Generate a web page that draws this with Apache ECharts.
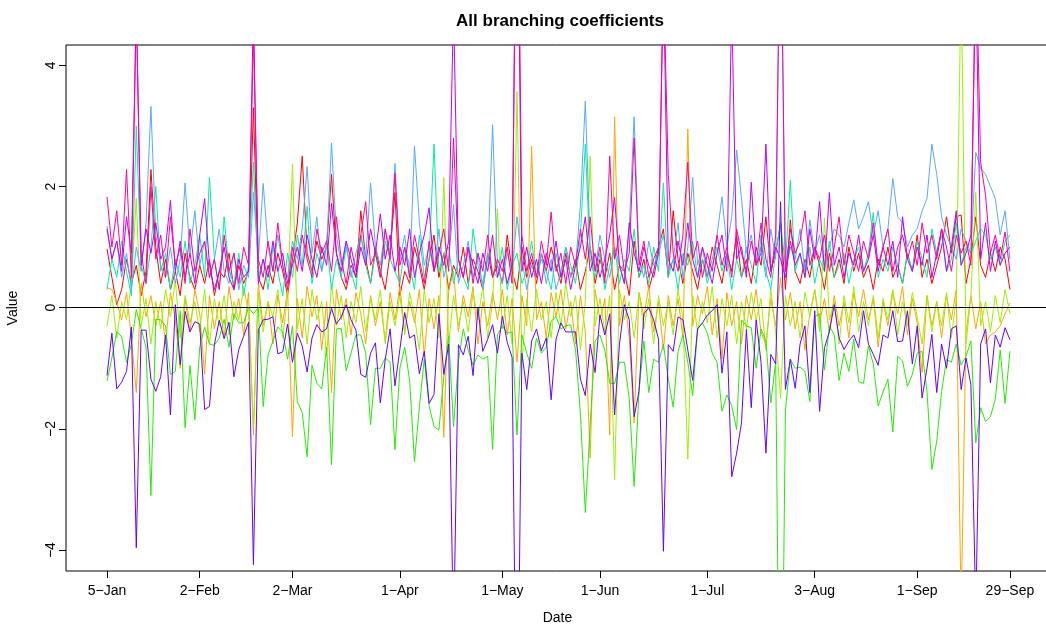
<!DOCTYPE html>
<html><head><meta charset="utf-8">
<script src="https://cdn.jsdelivr.net/npm/echarts@6/dist/echarts.min.js"></script>
<style>html,body{margin:0;padding:0;background:#fff}#c{width:1046px;height:628px}</style>
</head><body><div id="c"></div>
<script>
// trading-day index of each date tick and its label
const tickIndex = [0, 19, 38, 60, 81, 101, 123, 145, 166, 185];
const tickLabels = ['5\u2212Jan', '2\u2212Feb', '2\u2212Mar', '1\u2212Apr', '1\u2212May', '1\u2212Jun', '1\u2212Jul', '3\u2212Aug', '1\u2212Sep', '29\u2212Sep'];
const yTicks = [-4, -2, 0, 2, 4];
const seriesNames = ['b1', 'b2', 'b3', 'b4', 'b5', 'b6', 'b7', 'b8', 'b9'];
const seriesColors = ['#FF0000', '#FFA500', '#9EF000', '#22EE00', '#00F0A0', '#55AAFF', '#6600FF', '#BB00FF', '#FF0099'];

const red = [0.97,0.5,0.05,0.3,0.8,0.4,0.7,0.2,0.6,2.28,
1.0,0.4,0.8,0.3,0.6,0.2,0.9,0.5,0.3,0.7,
0.4,0.8,0.2,0.6,0.5,0.9,0.3,0.7,0.4,0.6,
3.3,0.5,0.3,0.7,0.4,0.9,0.6,0.2,0.8,1.4,
2.5,0.9,0.6,1.1,0.8,1.0,2.2,0.9,0.5,0.3,
0.7,0.5,1.6,0.8,0.4,1.0,0.6,0.3,0.9,1.9,
0.2,0.6,0.4,1.0,0.7,0.3,0.8,1.2,0.5,0.9,
0.3,0.7,0.5,1.0,0.4,0.8,0.6,0.3,0.9,0.5,
0.7,0.4,1.2,0.6,0.3,1.0,0.5,0.8,0.4,0.9,
0.6,1.0,0.7,0.4,0.9,0.5,0.8,0.3,0.6,1.0,
0.4,0.8,0.5,0.9,0.3,0.7,0.6,0.2,1.1,0.5,
0.8,0.3,0.6,1.0,1.3,0.5,1.6,0.8,0.4,0.9,
0.6,0.3,0.8,0.5,1.0,0.7,0.4,0.9,0.6,1.2,
0.5,0.8,0.4,1.0,0.7,1.5,0.6,0.9,1.4,0.3,
1.45,0.6,0.4,0.8,0.5,1.0,0.7,0.3,0.9,0.5,
0.8,0.4,1.0,0.6,0.9,0.5,0.7,0.3,0.8,0.6,
1.0,0.5,0.7,0.4,0.9,0.6,1.2,0.5,0.8,0.4,
0.7,1.0,1.5,0.9,1.5,1.53,0.4,0.8,1.5,0.7,
0.5,0.9,0.6,1.0,0.8,0.3];

const orange = [0.33,0.3,0.1,-0.2,0.25,-0.5,-1.4,0.4,-0.15,0.2,
-0.3,0.1,-0.6,0.25,-0.2,-1.0,0.15,-0.4,0.3,-0.1,
-1.1,0.2,-0.35,0.1,-0.5,0.35,-0.2,0.15,-0.45,0.25,
-2.1,0.4,-0.3,0.1,-0.6,0.2,-0.25,0.3,-2.13,0.15,
-0.5,0.35,-0.15,0.2,-0.7,0.1,-1.4,0.3,-0.2,0.15,
-0.45,0.25,-0.1,-0.6,0.2,-0.3,0.1,-0.55,0.25,-0.2,
0.35,-0.4,0.1,-0.25,0.3,-0.8,0.15,-0.35,0.2,-2.14,
0.3,0.6,-0.4,0.2,-0.15,0.35,-0.6,0.1,-0.3,0.25,
-0.2,0.3,-0.45,0.15,-0.9,0.2,-0.3,2.66,-0.2,0.1,
-0.5,0.25,-0.15,0.3,-0.35,0.1,-0.6,0.2,-0.4,-2.48,
0.3,-0.2,0.15,-2.1,3.15,-0.3,0.2,-0.5,-1.9,0.25,
-0.15,0.35,-0.4,0.1,-0.7,0.2,-0.3,0.15,-0.5,2.95,
-0.3,0.2,-0.1,0.35,-0.45,0.15,-0.85,0.25,-0.3,0.1,
-0.6,0.2,-0.2,0.3,-0.4,-0.62,0.15,-0.3,0.5,-0.2,
0.25,-0.35,0.1,-0.7,-0.1,0.3,-0.25,0.15,-0.4,0.2,
-0.3,0.1,-0.5,0.25,-0.15,0.3,-0.2,0.15,-0.65,0.1,
-0.3,0.25,-0.1,0.35,-0.45,0.15,-0.25,-1.07,0.2,-0.3,
0.1,-0.5,0.2,-0.2,0.3,-5,-0.4,0.2,-0.35,0.1,
-0.6,-0.45,-0.4,-0.3,-0.1,0.08];

const yellowGreen = [-0.3,0.2,-0.5,0.1,-0.2,0.4,1.8,-0.3,0.15,-0.6,
0.1,-0.35,0.3,-0.15,0.45,-0.5,0.2,-0.25,0.1,-0.4,
0.3,-0.6,0.15,-0.3,0.2,-0.45,0.1,-0.2,0.35,-0.1,
-2.0,0.25,-0.4,0.1,-0.15,0.3,-0.5,0.2,2.37,-0.35,
0.15,-0.6,0.3,-0.2,0.1,-0.8,0.4,-0.3,0.2,-0.5,
0.1,-0.25,0.35,-0.4,0.15,-0.2,0.3,-0.6,0.1,-0.3,
0.2,-0.45,0.25,-0.15,-0.7,0.3,-0.25,0.15,-0.5,2.15,
-0.6,0.2,-0.3,0.1,-0.4,0.25,-0.2,0.35,-0.5,0.1,
1.63,-0.35,0.2,-0.6,3.57,-0.9,0.15,-0.4,0.3,-0.2,
0.1,-0.5,0.25,-0.3,0.4,-0.15,0.2,-0.7,0.1,2.5,
-0.3,0.15,-0.4,0.2,-2.84,0.3,-0.2,0.1,-0.5,0.25,
-0.35,0.15,-0.6,0.2,-0.3,0.1,-0.45,0.3,-0.2,-2.5,
0.2,-0.4,0.1,-0.25,0.35,-0.5,0.15,-0.3,0.2,-0.6,
0.1,-0.35,0.25,-0.2,0.15,-0.7,0.3,-0.4,-1.5,0.2,
-0.3,0.1,-0.5,0.25,-0.15,0.3,-0.4,1.48,-0.2,0.1,
-0.6,0.2,-0.25,0.35,-0.4,0.1,-0.3,0.2,-0.5,0.15,
-0.2,0.3,-0.45,0.1,-0.3,0.25,-0.15,-0.6,0.2,-0.4,
0.1,-0.3,0.25,-0.5,0.15,5.5,-0.6,0.2,1.9,-0.3,
0.1,-0.4,0.2,-0.25,0.3,-0.1];

const green = [-1.21,-0.83,-0.39,-0.48,-0.9,-0.6,-0.03,-0.35,-0.65,-3.1,
-0.19,-0.2,-0.3,-1.1,-1.05,-0.05,-1.98,-0.95,-1.85,-0.65,
-0.32,-0.6,-0.62,-0.5,-0.19,-0.65,-0.1,-0.25,-0.25,0.0,
-0.1,0.0,-1.63,-0.78,-0.55,-0.32,-0.4,-0.85,-0.3,-1.55,
-1.73,-2.46,-0.95,-1.25,-1.34,-0.65,-2.59,-0.35,-0.34,-1.04,
-0.75,-0.45,-0.45,-0.75,-1.93,-1.0,-1.0,-0.83,-0.9,-2.34,
-1.0,-0.65,-1.2,-2.54,-1.64,-0.85,-1.62,-1.96,-2.02,-1.15,
-0.47,-1.96,-0.88,-0.35,-0.7,-0.95,-0.78,-0.85,-0.8,-2.34,
-0.45,-0.3,-0.42,-0.4,-2.1,-0.45,-0.75,-1.0,-0.5,-0.75,
-0.65,-0.22,-0.15,-0.35,-0.3,-0.28,-0.7,-1.75,-3.38,-1.93,
-0.55,-0.45,-0.7,-1.25,-1.25,-0.9,-0.9,-1.5,-2.95,-1.38,
-0.55,-1.4,-0.85,-0.9,-0.6,-1.18,-1.64,-0.72,-0.45,-0.9,
-1.45,-0.35,-0.25,-0.42,-0.75,-0.9,-1.71,-1.44,-1.62,-2.01,
-0.2,-0.3,-0.33,-1.0,-0.35,-0.55,-1.57,-0.9,-9,-1.7,
-0.85,-1.0,-0.98,-1.05,-1.55,-0.15,-0.1,-1.03,-0.3,-0.45,
-1.2,-0.75,-1.05,-0.52,-1.22,-1.25,-0.63,-0.93,-1.62,-1.39,
-1.18,-2.05,-0.8,-0.88,-1.3,-1.1,-0.75,-0.72,-1.38,-2.67,
-2.2,-1.38,-0.85,-0.9,-0.6,-0.95,-0.8,-0.55,-2.23,-1.65,
-1.88,-1.8,-1.51,-0.7,-1.58,-0.72];

const aqua = [0.3,0.8,0.5,1.1,0.6,0.2,3.0,0.7,0.4,1.0,
2.0,0.6,0.9,0.3,0.8,0.5,1.1,0.4,0.7,1.2,
0.5,2.15,0.8,0.3,1.5,0.6,0.4,0.9,0.2,0.7,
2.4,0.5,0.8,0.3,1.0,0.6,0.2,0.9,0.5,1.2,
0.7,1.67,0.4,0.9,0.6,1.1,0.3,0.8,0.5,1.0,
0.6,0.3,1.2,0.7,0.4,0.9,0.5,1.1,0.8,0.6,
0.4,1.0,0.7,0.3,1.2,0.5,0.8,2.7,0.6,0.9,
1.0,0.4,0.8,0.5,0.3,1.3,0.7,0.4,0.9,0.6,
0.5,1.0,0.3,0.7,0.9,0.4,0.6,1.1,0.5,0.8,
0.6,0.3,0.9,0.5,1.0,0.7,0.4,1.2,2.7,0.8,
0.5,0.9,0.3,0.7,1.0,0.4,0.8,0.6,1.3,0.5,
0.7,0.4,1.0,0.6,2.06,0.5,0.8,0.3,0.9,0.7,
1.1,0.5,0.8,0.4,0.7,1.0,0.6,0.9,0.3,0.8,
0.5,1.0,0.7,0.4,1.2,0.6,0.3,0.9,1.4,0.7,
2.1,0.6,0.9,0.5,1.0,0.4,0.8,0.6,1.1,0.5,
0.7,0.9,0.4,0.8,1.0,0.6,0.9,1.57,0.5,0.8,
0.6,1.0,0.7,0.4,0.9,0.6,1.1,0.8,0.5,1.3,
0.9,1.2,0.6,0.8,1.4,0.7,1.0,0.9,1.1,1.3,
1.2,0.8,1.0,0.7,1.1,1.2];

const lightBlue = [1.35,0.8,1.1,0.5,0.9,0.3,1.0,0.6,1.4,3.32,
1.2,0.7,0.5,1.0,0.4,0.8,2.06,0.9,1.6,0.7,
1.1,0.5,0.8,1.3,0.6,0.4,0.9,0.3,0.7,0.5,
1.9,0.8,2.05,1.0,0.6,1.2,0.7,0.5,1.1,0.8,
1.3,2.33,0.9,1.5,0.6,1.0,2.72,1.2,0.7,1.1,
0.5,0.9,1.2,0.8,2.06,1.0,0.7,1.3,0.9,2.38,
0.8,1.2,0.5,2.67,1.4,0.7,1.0,0.6,1.3,0.5,
0.8,1.7,0.4,0.7,1.1,0.5,0.9,0.3,0.8,3.02,
0.7,0.4,0.9,0.6,1.5,0.8,0.3,0.7,0.5,0.9,
0.4,0.8,0.3,0.6,1.0,0.5,0.7,1.7,3.41,1.0,
0.6,1.2,0.8,0.5,1.0,0.7,0.4,1.3,3.15,0.8,
0.5,1.1,0.7,0.9,1.2,0.6,0.8,1.4,0.5,1.0,
2.15,0.7,1.0,0.5,0.8,1.2,1.83,1.0,1.5,2.6,
1.8,0.9,1.2,0.7,1.0,0.5,1.3,0.8,7,0.6,
1.0,0.8,1.3,0.6,1.45,0.9,1.2,0.7,1.0,1.3,
1.2,1.0,1.4,1.78,1.3,1.5,1.75,1.2,1.6,1.0,
1.3,2.13,1.5,1.4,1.0,1.2,1.3,1.6,1.8,2.7,
2.2,1.5,1.2,1.0,0.8,1.3,1.1,0.9,2.56,2.3,
2.2,2.0,1.8,1.2,1.6,0.8];

const indigo = [-1.12,-0.42,-1.34,-1.23,-1.05,-0.32,-3.96,-0.37,-0.37,-1.18,
-1.38,-1.14,-0.45,-1.77,0.05,-0.94,-0.06,-0.4,-0.23,-0.27,
-1.68,-1.63,-0.61,-0.21,-0.51,-0.24,-1.14,-0.69,-0.47,-0.24,
-4.24,-0.37,-0.2,-0.19,-0.15,-0.76,-0.73,-0.27,-0.9,-0.42,
-0.63,-1.06,-0.5,-0.28,-0.4,-0.35,-0.01,-0.27,-0.15,0.05,
-0.2,-0.37,-1.1,-1.15,-0.75,-0.58,-1.57,-0.86,-0.35,-1.29,
-0.69,-0.08,-0.5,-0.45,-1.09,-0.72,-1.58,-1.43,-0.1,-1.1,
-0.6,-5.5,-0.61,-0.78,-0.47,-1.12,0.0,-0.72,-0.52,-0.28,
-0.75,-0.14,-0.57,-0.82,-8,-0.75,-1.35,-0.55,-0.35,-0.71,
-0.5,-1.52,-0.52,-0.25,-0.4,-0.4,-0.4,-1.18,-1.45,-0.6,
-1.07,-0.12,-0.45,-0.1,-1.77,-0.6,0.05,-0.2,-1.8,-1.38,
-0.1,0.0,-0.2,-0.52,-4.02,-0.61,-0.72,-0.15,-0.2,-0.7,
-1.2,-0.35,-0.25,-0.12,-0.05,0.05,-1.08,-0.4,-2.79,-2.4,
-1.9,-0.36,-1.65,-0.2,-0.9,-2.4,-0.77,-0.93,1.75,-1.35,
-0.85,-1.33,-0.6,-0.3,-1.4,-0.05,-1.71,-0.66,-0.4,0.05,
-0.5,-0.69,-0.55,-0.45,-0.66,-0.05,-0.6,-0.77,-0.95,-0.45,
-0.5,-0.05,-0.56,-0.55,-0.05,-0.93,-0.3,-1.49,-1.0,-0.44,
-1.4,-0.6,-1.0,-0.35,-0.3,-1.35,-0.83,-1.27,-5,-0.6,
-0.35,-1.24,-0.45,-0.65,-0.33,-0.53];

const purple = [1.3,0.8,1.1,0.6,1.5,0.9,5,0.7,1.3,0.9,
1.4,0.8,1.0,1.77,0.6,1.1,0.5,0.9,0.4,1.2,
1.8,0.7,0.3,0.6,1.0,0.5,0.3,0.8,0.5,0.6,
5,0.4,0.8,0.5,1.1,0.6,0.9,0.4,0.7,1.0,
0.6,1.2,0.8,0.5,1.0,0.7,1.72,0.9,0.6,1.1,
0.8,0.5,1.0,0.7,1.3,0.9,1.55,0.8,1.2,0.6,
1.0,0.7,1.3,0.5,0.9,1.2,1.65,0.6,1.0,0.7,
1.1,5,0.8,0.5,1.0,0.7,0.4,0.9,0.6,1.2,
0.5,0.8,0.4,0.7,8,0.6,1.0,0.5,0.8,0.4,
0.9,0.6,1.1,0.5,0.8,0.3,0.7,1.0,1.5,0.6,
0.9,0.5,0.8,1.2,1.82,0.7,0.4,1.4,0.9,0.6,
1.0,0.7,0.5,0.9,5.5,0.8,0.6,1.1,0.7,1.4,
0.8,0.5,1.0,0.7,0.4,0.9,1.2,0.6,5,0.8,
1.0,0.5,2.07,0.7,0.9,2.7,0.6,1.0,0.8,0.5,
1.1,0.7,0.9,0.5,1.3,0.8,1.75,0.6,1.9,0.7,
1.0,0.5,0.9,0.7,1.2,0.6,0.8,1.2,0.6,1.0,
0.7,1.1,0.5,1.5,0.8,0.6,1.0,0.7,1.2,0.5,
0.9,1.3,0.6,1.0,1.6,0.7,0.9,1.2,5.5,0.8,
1.4,0.6,1.1,0.7,0.9,1.0];

const pink = [1.83,1.0,1.6,0.7,2.28,0.5,5,0.9,0.4,2.0,
0.8,1.2,0.5,1.5,0.7,1.0,0.4,1.3,0.6,0.9,
1.1,0.5,0.8,0.3,1.2,0.6,0.9,0.4,1.0,0.7,
4.5,0.8,0.5,1.1,0.6,1.4,0.7,0.3,1.0,0.6,
1.2,0.8,0.5,1.3,0.9,1.1,0.6,1.5,0.8,0.4,
1.0,0.6,1.2,1.75,0.7,0.9,0.5,1.3,0.8,2.22,
0.7,1.0,0.5,1.2,0.8,0.4,1.1,0.6,0.9,1.3,
0.6,2.8,0.8,0.5,1.0,0.4,0.9,0.6,1.2,0.5,
0.8,0.6,1.0,0.4,9,1.2,0.6,0.9,0.5,1.1,
0.7,1.58,0.6,0.9,0.4,1.0,0.7,1.3,0.8,1.5,
0.6,1.0,0.4,2.5,0.8,1.2,0.6,0.9,2.8,0.7,
1.1,0.5,0.8,1.0,5.5,2.2,0.9,0.6,1.2,2.4,
0.8,1.1,0.5,0.9,0.6,1.2,0.7,1.0,0.5,1.3,
0.9,0.6,1.1,0.7,1.4,0.8,0.5,1.2,7,0.6,
1.3,0.9,1.1,1.6,0.7,1.0,0.8,1.2,0.6,1.0,
1.5,0.7,1.2,0.9,0.6,1.1,0.8,1.4,0.7,1.0,
1.3,0.6,1.0,1.2,0.8,1.1,0.7,1.4,0.9,1.2,
0.8,1.3,1.0,0.6,1.2,0.9,1.1,0.7,6,2.4,
1.85,0.9,1.2,0.8,1.25,0.6];

const allSeries = [red, orange, yellowGreen, green, aqua, lightBlue, indigo, purple, pink];
const FONT = "'Liberation Sans', Arial, Helvetica, sans-serif";

const chart = echarts.init(document.getElementById('c'), null, {renderer: 'canvas'});
const series = allSeries.map((arr, k) => ({
  type: 'line',
  name: seriesNames[k],
  data: arr.map((v, i) => [i, v]),
  symbol: 'none',
  showSymbol: false,
  clip: true,
  silent: true,
  lineStyle: {width: 1, color: seriesColors[k]},
  itemStyle: {color: seriesColors[k]},
  z: 2 + k
}));
series[0].markLine = {
  silent: true, symbol: ['none', 'none'], label: {show: false},
  lineStyle: {color: '#000', width: 1, type: 'solid'},
  data: [{yAxis: 0}]
};

chart.setOption({
  animation: false,
  backgroundColor: '#fff',
  title: {
    text: 'All branching coefficients', left: 555, top: 8, textAlign: 'center',
    textStyle: {fontFamily: FONT, fontSize: 17, fontWeight: 'bold', color: '#000'}
  },
  grid: {left: 66, right: -3, top: 45, bottom: 57, show: true, borderColor: '#000', borderWidth: 1,
    backgroundColor: 'transparent', containLabel: false, outerBoundsMode: 'none'},
  xAxis: {
    type: 'value', min: -8.4, max: 193.0,
    name: 'Date', nameLocation: 'middle', nameGap: 40,
    nameTextStyle: {fontFamily: FONT, fontSize: 14, color: '#000'},
    axisLine: {show: false, onZero: false},
    splitLine: {show: false},
    axisTick: {show: true, inside: false, length: 7, customValues: tickIndex, lineStyle: {color: '#000'}},
    axisLabel: {
      customValues: tickIndex, margin: 13, fontFamily: FONT, fontSize: 14, color: '#000',
      formatter: v => { const j = tickIndex.indexOf(Math.round(v)); return j >= 0 ? tickLabels[j] : ''; }
    }
  },
  yAxis: {
    type: 'value', min: -4.345, max: 4.335,
    name: 'Value', nameLocation: 'middle', nameGap: 46, nameRotate: 90,
    nameTextStyle: {fontFamily: FONT, fontSize: 14, color: '#000'},
    axisLine: {show: false, onZero: false},
    splitLine: {show: false},
    axisTick: {show: true, inside: false, length: 7, customValues: yTicks, lineStyle: {color: '#000'}},
    axisLabel: {
      customValues: yTicks, rotate: 90, margin: 8, fontFamily: FONT, fontSize: 14, color: '#000',
      formatter: v => v < 0 ? '\u2212' + Math.abs(v) : String(v)
    }
  },
  series: series
});
</script>
</body></html>
